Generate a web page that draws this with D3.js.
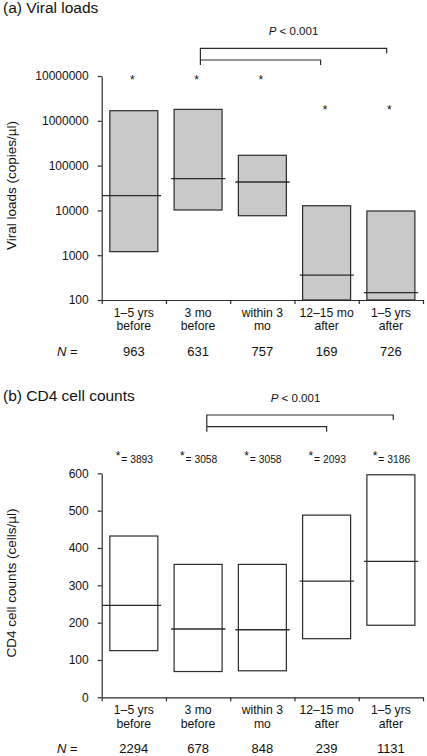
<!DOCTYPE html>
<html>
<head>
<meta charset="utf-8">
<script src="https://cdn.jsdelivr.net/npm/d3@7"></script>
<style>
  html, body { margin: 0; padding: 0; background: #fff; }
  svg { display: block; font-family: "Liberation Sans", Arial, Helvetica, sans-serif; }
</style>
</head>
<body>
<svg id="chart" width="427" height="756"></svg>
<script>
// ---- Data ----
const categories = [["1–5 yrs", "before"], ["3 mo", "before"], ["within 3", "mo"], ["12–15 mo", "after"], ["1–5 yrs", "after"]];

const viralLow = [1200, 10200, 7600, 100, 100];
const viralHigh = [1680000, 1800000, 170000, 12700, 9700];
const viralMedian = [21300, 51000, 43000, 360, 146];
const viralStar = [10000000, 10000000, 10000000, 2100000, 2100000];
const viralN = [963, 631, 757, 169, 726];
const viralTicks = [100, 1000, 10000, 100000, 1000000, 10000000];

const cd4Low = [125, 69, 71, 157, 193];
const cd4High = [432, 356, 356, 488, 596];
const cd4Median = [246, 183, 181, 311, 364];
const cd4StarCounts = [3893, 3058, 3058, 2093, 3186];
const cd4N = [2294, 678, 848, 239, 1131];
const cd4Ticks = [0, 100, 200, 300, 400, 500, 600];

const pText = "< 0.001";

// ---- Layout ----
const svg = d3.select("#chart");
const ink = "#2b2b2b";
const x0 = 101.7, x1 = 423;
const x = d3.scaleBand().domain(d3.range(categories.length)).range([x0, x1]).padding(0);
const barW = x.bandwidth() * 0.747;
const barOff = (x.bandwidth() - barW) / 2;
const cx = i => x(i) + x.bandwidth() / 2;

function drawPanel(opt) {
  const g = svg.append("g");
  const y = opt.y;

  // title
  g.append("text").attr("x", 3).attr("y", opt.titleY)
    .attr("font-size", 15.5).attr("fill", "#111").text(opt.title);

  // y label
  g.append("text")
    .attr("transform", `translate(${16},${opt.yLabelY}) rotate(-90)`)
    .attr("text-anchor", "middle").attr("font-size", 13.5).attr("fill", "#111")
    .text(opt.yLabel);

  // bars
  g.selectAll("rect.bar").data(opt.low).join("rect")
    .attr("x", (d, i) => x(i) + barOff)
    .attr("width", barW)
    .attr("y", (d, i) => y(opt.high[i]))
    .attr("height", (d, i) => y(d) - y(opt.high[i]))
    .attr("fill", opt.fill).attr("stroke", ink).attr("stroke-width", 1.2);

  // medians
  g.selectAll("line.med").data(opt.median).join("line")
    .attr("x1", (d, i) => i === 0 ? x0 + 0.5 : x(i) + barOff - 3)
    .attr("x2", (d, i) => x(i) + barOff + barW + 3.3)
    .attr("y1", d => y(d)).attr("y2", d => y(d))
    .attr("stroke", ink).attr("stroke-width", 1.3);

  // y axis
  const ya = g.append("g").attr("transform", `translate(${x0},0)`)
    .call(d3.axisLeft(y).tickValues(opt.ticks).tickFormat(d3.format("d"))
      .tickSize(4).tickSizeOuter(0).tickPadding(9));
  ya.select(".domain").attr("stroke", ink).attr("stroke-width", 1.2);
  ya.selectAll(".tick line").attr("stroke", ink).attr("stroke-width", 1.2);
  ya.selectAll(".tick text").attr("font-size", 12).attr("fill", "#111")
    .attr("font-family", '"Liberation Sans", Arial, sans-serif');

  // x axis (ticks on category boundaries)
  const yb = y.range()[0];
  const xb = d3.scaleLinear().domain([0, categories.length]).range([x0, x1]);
  const xa = g.append("g").attr("transform", `translate(0,${yb})`)
    .call(d3.axisBottom(xb).tickValues(d3.range(categories.length + 1))
      .tickFormat("").tickSize(4).tickSizeOuter(0));
  xa.select(".domain").attr("stroke", ink).attr("stroke-width", 1.2);
  xa.selectAll(".tick line").attr("stroke", ink).attr("stroke-width", 1.2);

  // category labels (two separate lines)
  [0, 1].forEach(k => {
    g.selectAll("text.cat" + k).data(categories).join("text")
      .attr("x", (d, i) => cx(i)).attr("y", yb + (k === 0 ? 16.6 : 30.4))
      .attr("text-anchor", "middle").attr("font-size", 12.2).attr("fill", "#111")
      .text(d => d[k]);
  });

  // N row
  const nl = g.append("text").attr("x", 57).attr("y", yb + 55.5)
    .attr("font-size", 13).attr("fill", "#111");
  nl.append("tspan").attr("font-style", "italic").text("N");
  nl.append("tspan").text(" =");
  g.selectAll("text.n").data(opt.n).join("text")
    .attr("x", (d, i) => cx(i)).attr("y", yb + 55.5)
    .attr("text-anchor", "middle").attr("font-size", 13).attr("fill", "#111")
    .text(d => d);

  // brackets
  const b = opt.bracket;
  const bx = i => cx(i);
  const path = d3.path();
  path.moveTo(bx(b.from) + b.dl, b.y2 + 5);
  path.lineTo(bx(b.from) + b.dl, b.y1);
  path.lineTo(bx(b.toUpper) + b.du, b.y1);
  path.lineTo(bx(b.toUpper) + b.du, b.y1 + 5);
  path.moveTo(bx(b.from) + b.dl, b.y2);
  path.lineTo(bx(b.toLower) + b.dw, b.y2);
  path.lineTo(bx(b.toLower) + b.dw, b.y2 + 5);
  g.append("path").attr("d", path.toString()).attr("fill", "none")
    .attr("stroke", ink).attr("stroke-width", 1.2);

  const pt = g.append("text").attr("x", opt.pX).attr("y", opt.pY)
    .attr("text-anchor", "middle").attr("font-size", 11.5).attr("fill", "#111");
  pt.append("tspan").attr("font-style", "italic").text("P");
  pt.append("tspan").text(" " + pText);

  return g;
}

// ---- Panel (a) ----
const yA = d3.scaleLog().domain([100, 10000000]).range([300, 76]);
const gA = drawPanel({
  title: "(a) Viral loads", titleY: 13,
  yLabel: "Viral loads (copies/µl)", yLabelY: 185.5,
  y: yA, ticks: viralTicks, low: viralLow, high: viralHigh, median: viralMedian,
  fill: "#c9c9c9", n: viralN,
  bracket: { from: 1, toUpper: 4, toLower: 3, y1: 48.3, y2: 60, dl: 2.3, du: -4.2, dw: -6 },
  pX: 293.5, pY: 35
});
gA.selectAll("text.star").data(viralStar).join("text")
  .attr("x", (d, i) => cx(i) - 1.5).attr("y", d => yA(d) + 7.6)
  .attr("text-anchor", "middle").attr("font-size", 12).attr("fill", "#111")
  .text("*");

// ---- Panel (b) ----
const yB = d3.scaleLinear().domain([0, 600]).range([697.3, 473.3]);
const gB = drawPanel({
  title: "(b) CD4 cell counts", titleY: 401,
  yLabel: "CD4 cell counts (cells/µl)", yLabelY: 583,
  y: yB, ticks: cd4Ticks, low: cd4Low, high: cd4High, median: cd4Median,
  fill: "#ffffff", n: cd4N,
  bracket: { from: 1, toUpper: 4, toLower: 3, y1: 415, y2: 426.7, dl: 8.7, du: 2.4, dw: 0 },
  pX: 295.5, pY: 402
});
const st = gB.selectAll("text.star").data(cd4StarCounts).join("text")
  .attr("x", (d, i) => cx(i) - 18).attr("y", 462.7)
  .attr("fill", "#111");
st.append("tspan").attr("font-size", 12).attr("dy", -2.5).text("*");
st.append("tspan").attr("font-size", 10.3).attr("dy", 2.5).attr("dx", 0.8).text(d => "= " + d);
</script>
</body>
</html>
